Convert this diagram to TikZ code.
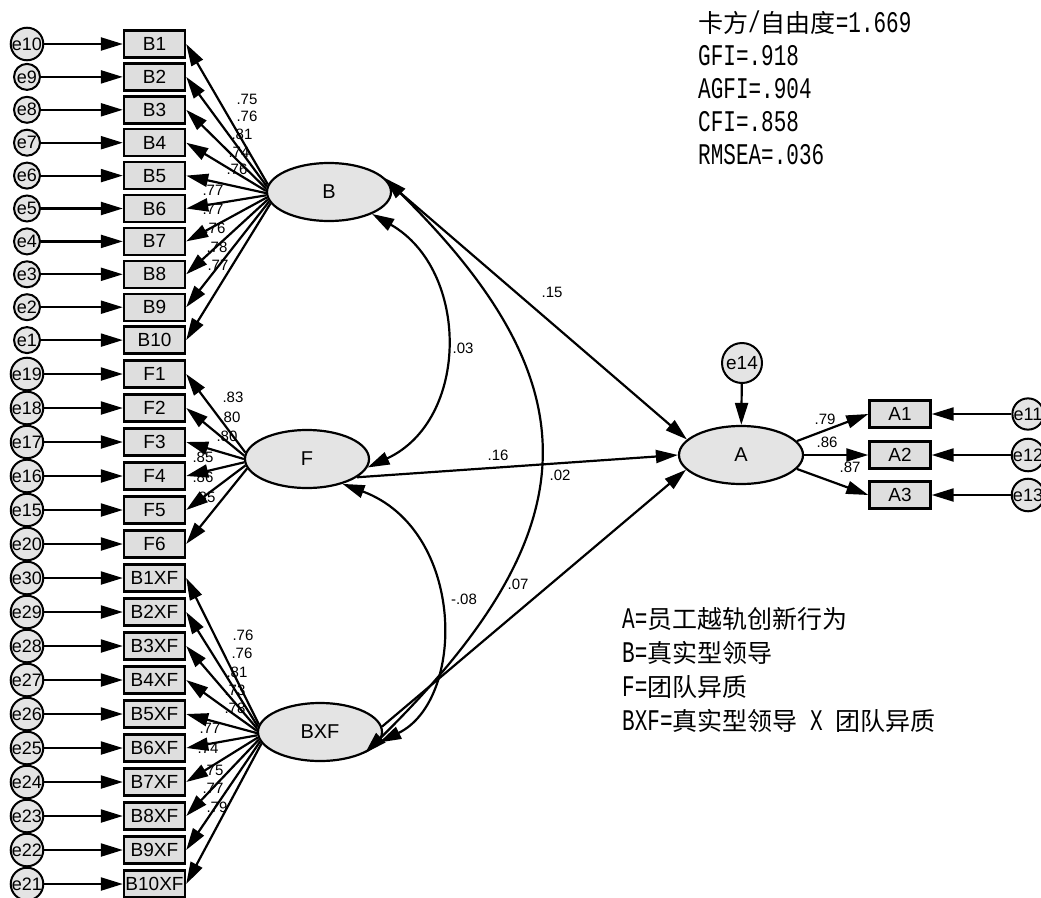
\documentclass[tikz,border=0pt]{standalone}
\usepackage{fontspec}
\setmainfont{Liberation Sans}
\newfontfamily\cjk{Noto Sans CJK SC}
\newfontfamily\fitmono[FakeStretch=0.7]{Liberation Mono}
\usetikzlibrary{arrows.meta,shapes.geometric}
\definecolor{boxgray}{HTML}{DEDEDE}
\definecolor{latgray}{HTML}{E4E4E4}
\newcommand\zhtext[1]{{\cjk\fontsize{25}{25}\selectfont #1}}
\tikzset{
 obs/.style={draw, line width=2.4pt, fill=boxgray, minimum width=61pt, minimum height=27pt, inner sep=0pt, font=\fontsize{19}{19}\selectfont},
 lat/.style={ellipse, draw, line width=2.2pt, fill=latgray, minimum width=124pt, minimum height=58pt, inner sep=0pt, font=\fontsize{20}{20}\selectfont},
 err/.style={circle, draw, line width=2pt, fill=latgray, minimum size=26pt, inner sep=0pt, font=\fontsize{18}{18}\selectfont},
 bigerr/.style={err, minimum size=40pt, font=\fontsize{19}{19}\selectfont},
 arr/.style={line width=2.2pt, -{Triangle[length=22pt,width=13pt]}},
 cov/.style={line width=2.2pt, {Triangle[length=22pt,width=13pt]}-{Triangle[length=22pt,width=13pt]}},
 ld/.style={font=\fontsize{15}{15}\selectfont, inner sep=0pt},
 pl/.style={font=\fontsize{15}{15}\selectfont, inner sep=0pt},
 fittxt/.style={anchor=west, inner sep=0pt, font=\fitmono\fontsize{30}{30}\selectfont},
}
\begin{document}
\begin{tikzpicture}[x=1pt,y=-1pt]
\fill[white] (0,0) rectangle (1041,897);
\useasboundingbox (0,0) rectangle (1041,897);

% latent variables
\node[lat] (B) at (329,192) {B};
\node[lat] (F) at (307,459) {F};
\node[lat] (BXF) at (320,732) {BXF};
\node[lat] (A) at (741,455) {A};

% B indicators
\foreach \i/\y/\e/\ang in {1/44/10/173,2/76.9/9/175,3/109.8/8/177,4/142.7/7/179,5/175.6/6/181,6/208.5/5/183,7/241.4/4/185,8/274.3/3/187,9/307.2/2/189,10/340.1/1/191}{
  \node[obs] (B\i) at (154.5,\y) {B\i};
  \node[err] (eB\i) at (27,\y) {e\e};
  \draw[arr] (eB\i) -- (B\i);
  \draw[arr] (B.\ang) -- (B\i.east);
}
% F indicators
\foreach \i/\y/\e/\ang in {1/374/19/174,2/408/18/177,3/442/17/180,4/476/16/183,5/510/15/186,6/544/20/189}{
  \node[obs] (F\i) at (154.5,\y) {F\i};
  \node[err] (eF\i) at (27,\y) {e\e};
  \draw[arr] (eF\i) -- (F\i);
  \draw[arr] (F.\ang) -- (F\i.east);
}
% BXF indicators
\foreach \i/\y/\e/\ang in {1/578/30/173,2/612/29/175,3/646/28/177,4/680/27/179,5/714/26/181,6/748/25/183,7/782/24/185,8/816/23/187,9/850/22/189,10/884/21/191}{
  \node[obs] (X\i) at (154.5,\y) {B\i XF};
  \node[err] (eX\i) at (27,\y) {e\e};
  \draw[arr] (eX\i) -- (X\i);
  \draw[arr] (BXF.\ang) -- (X\i.east);
}

% loading labels
\foreach \n/\x/\y/\v in {1/247/99/.75,2/247/116/.76,3/242/134/.81,4/239/152/.74,5/237/169/.76,6/213/190/.77,7/213/209/.77,8/215/228/.76,9/217/247/.78,10/218/265/.77}{
  \node[ld] (lB\n) at (\x,\y) {\v};
}
\foreach \n/\x/\y/\v in {1/233/397/.83,2/230/417/.80,3/227/436/.80,4/203/457/.85,5/203/477/.86,6/205/497/.85}{
  \node[ld] (lF\n) at (\x,\y) {\v};
}
\foreach \n/\x/\y/\v in {1/243/635/.76,2/242/653/.76,3/237/672/.81,4/235/690/.73,5/235/708/.78,6/210/728/.77,7/208/748/.74,8/213/770/.75,9/213/788/.77,10/217/807/.79}{
  \node[ld] (lX\n) at (\x,\y) {\v};
}

% A indicators
\node[obs] (A1) at (900,414) {A1};
\node[obs] (A2) at (900,455) {A2};
\node[obs] (A3) at (900,495) {A3};
\node[err] (e11) at (1028,414) {e11};
\node[err] (e12) at (1028,455) {e12};
\node[err] (e13) at (1028,495) {e13};
\draw[arr] (e11) -- (A1);
\draw[arr] (e12) -- (A2);
\draw[arr] (e13) -- (A3);
\draw[arr] (A.14) -- (A1.west);
\draw[arr] (A.0) -- (A2.west);
\draw[arr] (A.-14) -- (A3.west);
\node[ld] (lA1) at (825,419) {.79};
\node[ld] (lA2) at (827,442) {.86};
\node[ld] (lA3) at (850,467) {.87};

\node[bigerr] (e14) at (742,363) {e14};
\draw[arr] (e14) -- (A);

% structural paths
\draw[arr] (B.8) -- (A.164);
\draw[arr] (F.-20) -- (A.180);
\draw[arr] (BXF.5) -- (A.195);

% covariances
\draw[cov] (B.-27) .. controls (470,270) and (470,420) .. (F.-8);
\draw[cov] (F.-35) .. controls (466,530) and (466,700) .. (BXF.-10);
\draw[cov] (B.14) .. controls (595,385) and (592,530) .. (BXF.-25);

% path labels
\node[pl] (p15) at (552,292) {.15};
\node[pl] (p03) at (463,348) {.03};
\node[pl] (p16) at (498,455) {.16};
\node[pl] (p02) at (560,475) {.02};
\node[pl] (p07) at (518,584) {.07};
\node[pl] (p08) at (464,599) {-.08};

% fit indices
\node[fittxt] (t1) at (698,23) {\zhtext{卡方}/\zhtext{自由度}=1.669};
\node[fittxt] (t2) at (698,56) {GFI=.918};
\node[fittxt] (t3) at (698,89) {AGFI=.904};
\node[fittxt] (t4) at (698,122) {CFI=.858};
\node[fittxt] (t5) at (698,155) {RMSEA=.036};

% legend
\node[fittxt] (l1) at (622,619) {A=\zhtext{员工越轨创新行为}};
\node[fittxt] (l2) at (622,653) {B=\zhtext{真实型领导}};
\node[fittxt] (l3) at (622,687) {F=\zhtext{团队异质}};
\node[fittxt] (l4) at (622,721) {BXF=\zhtext{真实型领导} X \zhtext{团队异质}};
\end{tikzpicture}
\end{document}
